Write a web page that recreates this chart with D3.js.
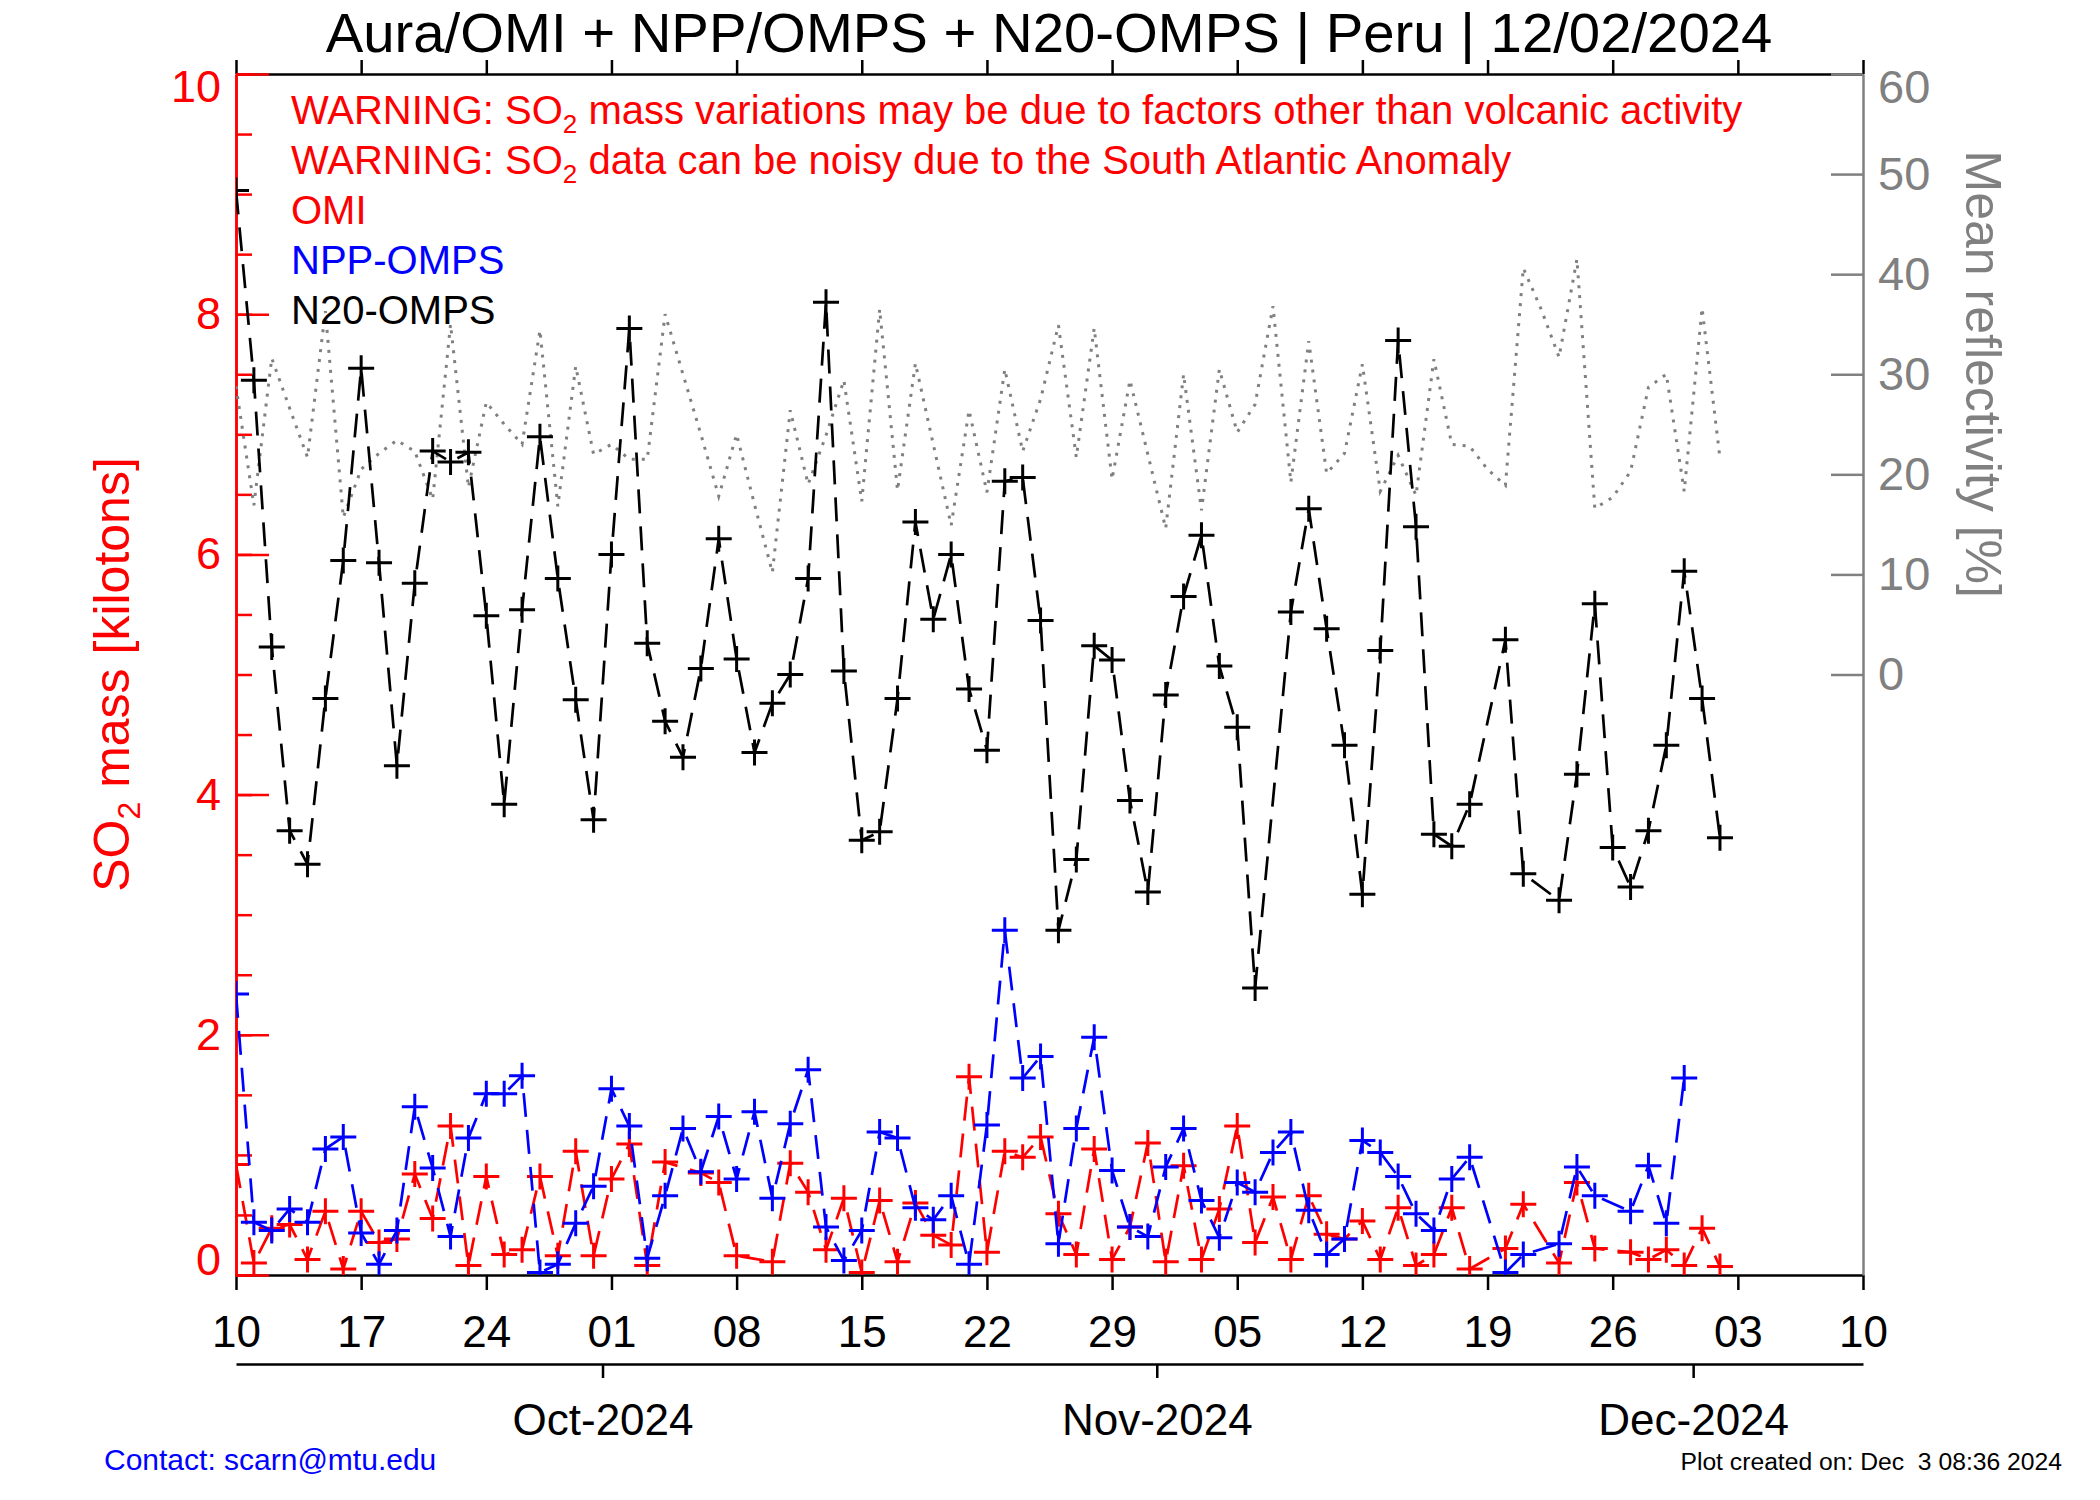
<!DOCTYPE html>
<html>
<head>
<meta charset="utf-8">
<script src="https://cdn.jsdelivr.net/npm/d3@7"></script>
<style>
  body { margin: 0; background: #fff; }
  svg { display: block; font-family: "Liberation Sans", Arial, Helvetica, sans-serif; }
</style>
</head>
<body>
<svg id="chart" width="2100" height="1500"></svg>
<script>
// one value per day, starting 2024-09-10 (null = no overpass that day)
var firstDay = "2024-09-10";
var lastDay = "2024-12-10";

var omi = [0.92, 0.10, 0.39, 0.42, 0.13, 0.53, 0.05, 0.53, 0.27, 0.30,
  0.84, 0.47, 1.24, 0.08, 0.82, 0.17, 0.21, 0.82, 0.16, 1.03,
  0.16, 0.80, 1.09, 0.08, 0.94, null, 0.85, 0.77, 0.16, null,
  0.11, 0.93, 0.69, 0.21, 0.64, 0.02, 0.62, 0.11, 0.60, 0.33,
  0.25, 1.65, 0.19, 1.03, 0.98, 1.15, 0.51, 0.17, 1.05, 0.13,
  0.40, 1.10, 0.11, 0.91, 0.13, 0.55, 1.24, 0.27, 0.65, 0.13,
  0.66, 0.34, 0.30, 0.45, 0.13, 0.56, 0.08, 0.17, 0.56, 0.05,
  null, 0.22, 0.59, null, 0.10, 0.77, 0.22, null, 0.19, 0.13,
  0.21, 0.08, 0.39, 0.07];

var nppOmps = [2.34, 0.44, 0.37, 0.55, 0.44, 1.05, 1.15, 0.35, 0.09, 0.37,
  1.40, 0.89, 0.32, 1.14, 1.51, 1.51, 1.66, 0.02, 0.09, 0.43,
  0.74, 1.55, 1.24, 0.14, 0.66, 1.22, 0.86, 1.32, 0.80, 1.36,
  0.64, 1.26, 1.71, 0.40, 0.12, 0.37, 1.19, 1.14, 0.56, 0.46,
  0.66, 0.09, 1.25, 2.87, 1.64, 1.82, 0.26, 1.22, 1.98, 0.87,
  0.40, 0.32, 0.90, 1.22, 0.62, 0.31, 0.77, 0.69, 1.02, 1.19,
  0.54, 0.17, 0.30, 1.12, 1.02, 0.82, 0.51, 0.37, 0.80, 0.98,
  null, 0.02, 0.17, null, 0.26, 0.90, 0.66, null, 0.53, 0.91,
  0.43, 1.64];

var n20Omps = [9.03, 7.45, 5.23, 3.70, 3.42, 4.80, 5.95, 7.55, 5.93, 4.24,
  5.76, 6.86, 6.77, 6.85, 5.49, 3.92, 5.54, 6.98, 5.80, 4.79,
  3.79, 6.00, 7.88, 5.26, 4.61, 4.31, 5.05, 6.13, 5.13, 4.35,
  4.76, 5.00, 5.80, 8.10, 5.03, 3.62, 3.69, 4.80, 6.27, 5.46,
  6.00, 4.88, 4.37, 6.61, 6.64, 5.45, 2.87, 3.46, 5.24, 5.12,
  3.95, 3.19, 4.83, 5.65, 6.16, 5.07, 4.56, 2.39, null, 5.52,
  6.38, 5.38, 4.41, 3.17, 5.20, 7.78, 6.23, 3.67, 3.57, 3.92,
  null, 5.29, 3.34, null, 3.12, 4.17, 5.59, 3.56, 3.23, 3.70,
  4.41, 5.86, 4.80, 3.64];

// mean reflectivity [%], right axis
var reflectivity = [28.8, 16.9, 31.6, 26.6, 21.7, 36.3, 15.7, 20.5, 22.1, 23.4,
  22.3, 17.5, 35.0, 18.7, 27.2, 25.0, 23.0, 34.4, 16.8, 30.8,
  22.0, 23.0, 21.5, 21.5, 36.0, 30.0, 24.0, 17.8, 24.0, 17.0,
  10.2, 26.4, 19.0, 23.9, 29.4, 17.3, 36.5, 18.4, 31.1, 23.0,
  14.9, 26.4, 18.2, 30.5, 22.3, 27.5, 34.9, 21.7, 34.6, 19.5,
  29.4, 22.0, 14.6, 30.0, 16.4, 30.5, 24.2, 27.0, 36.8, 19.2,
  33.3, 20.1, 22.1, 31.0, 18.3, 21.9, 17.9, 31.5, 23.0, 22.8,
  20.5, 18.9, 40.6, 36.5, 31.7, 41.5, 16.6, 17.7, 20.3, 28.7,
  30.0, 18.3, 36.6, 21.6];

var so2Ticks = [0, 2, 4, 6, 8, 10];
var reflTicks = [0, 10, 20, 30, 40, 50, 60];
var monthStarts = ["2024-10-01", "2024-11-01", "2024-12-01"];

var warnings = [
  "mass variations may be due to factors other than volcanic activity",
  "data can be noisy due to the South Atlantic Anomaly"
];
var legend = [["OMI", "#ff0000"], ["NPP-OMPS", "#0000ff"], ["N20-OMPS", "#000000"]];

var margin = {top: 74, right: 237, bottom: 225, left: 236},
  width = 2100,
  height = 1500,
  red = "#ff0000", blue = "#0000ff", gray = "#808080";

var parse = d3.utcParse("%Y-%m-%d");
var t0 = parse(firstDay), t1 = parse(lastDay);

var x = d3.scaleUtc()
    .domain([t0, t1])
    .range([margin.left, width - margin.right]);
var y = d3.scaleLinear()
    .domain([0, 10])
    .range([height - margin.bottom, margin.top]);
var yR = d3.scaleLinear()
    .domain([-60, 60])
    .range([height - margin.bottom, margin.top]);

var svg = d3.select("#chart");
var x0 = x.range()[0], x1 = x.range()[1], yb = y.range()[0], yt = y.range()[1];

svg.append("defs").append("clipPath").attr("id", "plot")
  .append("rect")
    .attr("x", x0).attr("y", yt)
    .attr("width", x1 - x0).attr("height", yb - yt);

function toPoints(arr) {
  return arr.map(function(v, i) { return {t: d3.utcDay.offset(t0, i), v: v}; })
    .filter(function(d) { return d.v != null; });
}

// ---- axes ----
var weeks = d3.utcDay.range(t0, d3.utcDay.offset(t1, 1), 7);

svg.append("g")
    .attr("transform", "translate(0," + yb + ")")
    .call(d3.axisBottom(x).tickValues(weeks).tickFormat(d3.utcFormat("%d"))
      .tickSize(15).tickSizeOuter(0).tickPadding(26))
    .call(styleAxis, "#000", 44);

svg.append("g")
    .attr("transform", "translate(0," + yt + ")")
    .call(d3.axisTop(x).tickValues(weeks).tickFormat("").tickSize(14).tickSizeOuter(0))
    .call(styleAxis, "#000", 44);

// month axis below the day axis (ticks half a day before the 1st)
var months = monthStarts.map(function(s) { return d3.utcHour.offset(parse(s), -12); });
svg.append("g")
    .attr("transform", "translate(0,1364)")
    .call(d3.axisBottom(x).tickValues(months)
      .tickFormat(function(d) { return d3.utcFormat("%b-%Y")(d3.utcHour.offset(d, 12)); })
      .tickSize(14).tickSizeOuter(0).tickPadding(26))
    .call(styleAxis, "#000", 44);

// left SO2 axis, minor then major
svg.append("g")
    .attr("transform", "translate(" + x0 + ",0)")
    .call(d3.axisLeft(y).tickValues(d3.range(0, 10.01, 0.5)).tickFormat("")
      .tickSize(-16).tickSizeOuter(0))
    .call(styleAxis, red, 45);

svg.append("g")
    .attr("transform", "translate(" + x0 + ",0)")
    .call(d3.axisLeft(y).tickValues(so2Ticks).tickFormat(d3.format("d"))
      .tickSize(-33).tickSizeOuter(0).tickPadding(15))
    .call(styleAxis, red, 45)
    .call(nudgeEnds);

// right reflectivity axis
svg.append("g")
    .attr("transform", "translate(" + x1 + ",0)")
    .call(d3.axisRight(yR).tickValues(reflTicks).tickFormat(d3.format("d"))
      .tickSize(-32).tickSizeOuter(0).tickPadding(15))
    .call(styleAxis, gray, 47)
    .call(nudgeEnds);

function styleAxis(g, color, size) {
  g.select(".domain").attr("stroke", color).attr("stroke-width", 2.5);
  g.selectAll(".tick line").attr("stroke", color).attr("stroke-width", 2.5);
  g.selectAll(".tick text").attr("fill", color).attr("font-size", size)
    .attr("font-family", "Liberation Sans, Arial, sans-serif");
}

// keep the end labels inside the axis span, as the original plot does
function nudgeEnds(g) {
  g.selectAll(".tick").each(function() {
    var tr = d3.select(this).attr("transform");
    var ty = +tr.match(/,([\-\d.]+)\)/)[1];
    var t = d3.select(this).select("text");
    if (ty < yt + 2) t.attr("dy", "0.6em");
    else if (ty > yb - 2) t.attr("dy", "-0.02em");
  });
}

// ---- data ----
var plot = svg.append("g").attr("clip-path", "url(#plot)");

var line = d3.line()
    .x(function(d) { return x(d.t); })
    .y(function(d) { return y(d.v); });

plot.append("path")
    .datum(toPoints(reflectivity))
    .attr("fill", "none")
    .attr("stroke", gray)
    .attr("stroke-width", 3)
    .attr("stroke-dasharray", "3,7")
    .attr("d", d3.line()
      .x(function(d) { return x(d.t); })
      .y(function(d) { return yR(d.v); }));

var series = [[omi, red], [nppOmps, blue], [n20Omps, "#000"]];
series.forEach(function(s) {
  var pts = toPoints(s[0]);
  plot.append("path")
      .datum(pts)
      .attr("fill", "none")
      .attr("stroke", s[1])
      .attr("stroke-width", 2.7)
      .attr("stroke-dasharray", "24,13")
      .attr("d", line);
  plot.selectAll(null)
      .data(pts)
    .enter().append("path")
      .attr("transform", function(d) { return "translate(" + x(d.t) + "," + y(d.v) + ")"; })
      .attr("d", "M-13,0H13M0,-13V13")
      .attr("stroke", s[1])
      .attr("stroke-width", 3);
});

// ---- text ----
svg.append("text")
    .attr("x", 1049).attr("y", 52)
    .attr("text-anchor", "middle")
    .attr("font-size", 56.3)
    .text("Aura/OMI + NPP/OMPS + N20-OMPS | Peru | 12/02/2024");

warnings.forEach(function(w, i) {
  var t = svg.append("text")
      .attr("x", 291).attr("y", 124 + i * 50)
      .attr("font-size", 40)
      .attr("fill", red);
  t.append("tspan").text("WARNING: SO");
  t.append("tspan").attr("font-size", 26).attr("dy", 9).text("2");
  t.append("tspan").attr("dy", -9).text(" " + w);
});

legend.forEach(function(l, i) {
  svg.append("text")
      .attr("x", 291).attr("y", 224 + i * 50)
      .attr("font-size", 40)
      .attr("fill", l[1])
      .text(l[0]);
});

var yl = svg.append("text")
    .attr("transform", "translate(129," + (yt + yb) / 2 + ") rotate(-90)")
    .attr("text-anchor", "middle")
    .attr("font-size", 50)
    .attr("fill", red);
yl.append("tspan").text("SO");
yl.append("tspan").attr("font-size", 32).attr("dy", 11).text("2");
yl.append("tspan").attr("dy", -11).text(" mass [kilotons]");

svg.append("text")
    .attr("transform", "translate(1966," + yR(30) + ") rotate(90)")
    .attr("text-anchor", "middle")
    .attr("font-size", 50)
    .attr("fill", gray)
    .text("Mean reflectivity [%]");

svg.append("text")
    .attr("x", 104).attr("y", 1470)
    .attr("font-size", 30)
    .attr("fill", blue)
    .text("Contact: scarn@mtu.edu");

svg.append("text")
    .attr("x", 2062).attr("y", 1470)
    .attr("text-anchor", "end")
    .attr("font-size", 24.7)
    .attr("xml:space", "preserve")
    .style("white-space", "pre")
    .text("Plot created on: Dec  3 08:36 2024");
</script>
</body>
</html>
